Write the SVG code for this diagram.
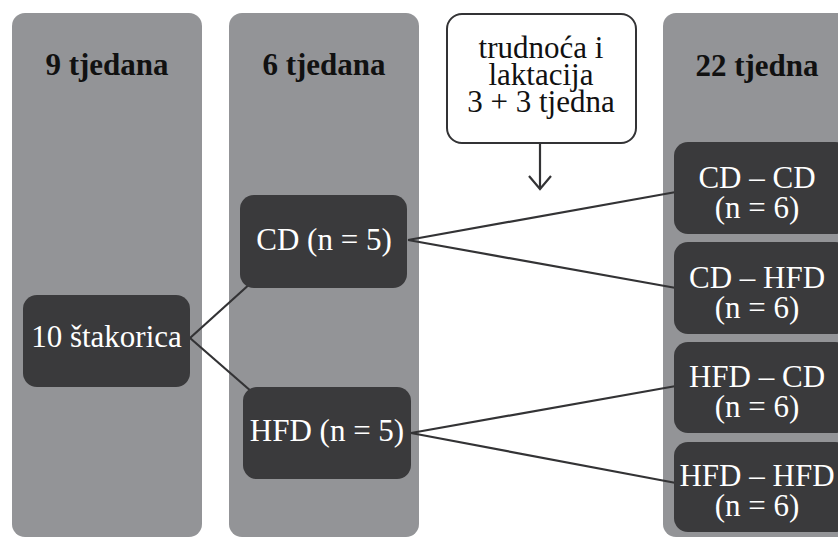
<svg xmlns="http://www.w3.org/2000/svg" width="838" height="538" viewBox="0 0 838 538">
<defs>
<style>
.col{fill:#939497}
.node{fill:#3a3a3c}
text{font-family:"Times New Roman","Liberation Serif","DejaVu Serif",serif;font-size:31px;text-anchor:middle}
.hd{font-weight:bold;fill:#111}
.nt{fill:#fff}
.bt{fill:#111}
.conn{stroke:#333335;stroke-width:2.2;fill:none}
</style>
<marker id="chev" viewBox="0 0 16 24" refX="14" refY="12" markerWidth="16" markerHeight="24" markerUnits="userSpaceOnUse" orient="auto">
<polyline points="1,1 14,12 1,23" fill="none" stroke="#333335" stroke-width="2.2"/>
</marker>
</defs>
<rect width="838" height="538" fill="#fff"/>
<g id="columns">
<rect class="col" x="12" y="13" width="190" height="524" rx="13"/>
<rect class="col" x="229" y="13" width="190" height="524" rx="13"/>
<rect class="col" x="663" y="13" width="200" height="524" rx="13"/>
<text class="hd" x="107" y="75">9 tjedana</text>
<text class="hd" x="324" y="75">6 tjedana</text>
<text class="hd" x="757" y="76">22 tjedna</text>
</g>
<g id="connectors">
<line class="conn" x1="190" y1="338" x2="252" y2="282"/>
<line class="conn" x1="190" y1="338" x2="252" y2="392"/>
<line class="conn" x1="408" y1="240" x2="676" y2="192"/>
<line class="conn" x1="408" y1="240" x2="676" y2="288"/>
<line class="conn" x1="411" y1="433" x2="676" y2="386"/>
<line class="conn" x1="411" y1="433" x2="676" y2="483"/>
<line class="conn" x1="540" y1="143" x2="540" y2="189" marker-end="url(#chev)"/>
</g>
<g id="n10">
<rect class="node" x="23" y="295" width="167" height="92" rx="14"/>
<text class="nt" x="106.5" y="347">10 štakorica</text>
</g>
<g id="cd5">
<rect class="node" x="240" y="195" width="167" height="93" rx="14"/>
<text class="nt" x="324" y="250">CD (n = 5)</text>
</g>
<g id="hfd5">
<rect class="node" x="243" y="387" width="168" height="92" rx="14"/>
<text class="nt" x="327" y="441">HFD (n = 5)</text>
</g>
<g id="cdcd">
<rect class="node" x="674" y="142" width="175" height="92" rx="14"/>
<text class="nt" x="757" y="188">CD – CD</text>
<text class="nt" x="757" y="218">(n = 6)</text>
</g>
<g id="cdhfd">
<rect class="node" x="674" y="242" width="175" height="92" rx="14"/>
<text class="nt" x="757" y="288">CD – HFD</text>
<text class="nt" x="757" y="318">(n = 6)</text>
</g>
<g id="hfdcd">
<rect class="node" x="674" y="342" width="175" height="91" rx="14"/>
<text class="nt" x="757" y="387">HFD – CD</text>
<text class="nt" x="757" y="417">(n = 6)</text>
</g>
<g id="hfdhfd">
<rect class="node" x="674" y="442" width="175" height="90" rx="14"/>
<text class="nt" x="757" y="486">HFD – HFD</text>
<text class="nt" x="757" y="516">(n = 6)</text>
</g>
<g id="pregnancy">
<rect x="447" y="14" width="189" height="129" rx="15" fill="#fff" stroke="#333335" stroke-width="2"/>
<text class="bt" x="541" y="58">trudnoća i</text>
<text class="bt" x="541" y="85">laktacija</text>
<text class="bt" x="541" y="112">3 + 3 tjedna</text>
</g>
</svg>
